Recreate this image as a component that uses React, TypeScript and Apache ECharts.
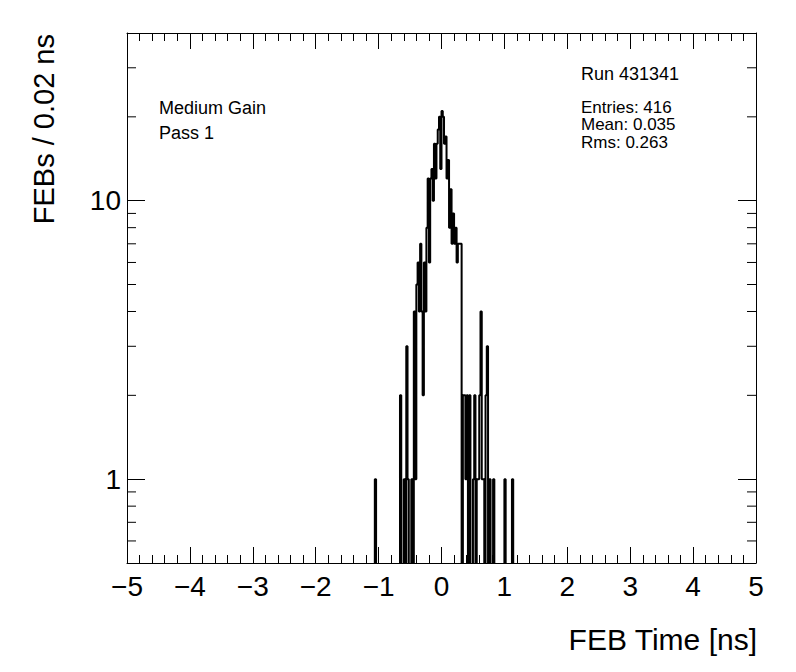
import React, { useEffect, useRef } from "react";
import * as echarts from "echarts";

// Histogram: FEB time, 0.02 ns bins, first bin low edge -1.10 ns
const binLow = -1.1;
const binWidth = 0.02;
const counts = [
  0, 0, 1, 0, 0, 0, 0, 0, 0, 0, // -1.10 .. -0.92
  0, 0, 0, 0, 0, 0, 0, 0, 0, 0, // -0.90 .. -0.72
  0, 0, 2, 0, 0, 1, 0, 3, 1, 0, // -0.70 .. -0.52
  0, 1, 0, 4, 1, 5, 6, 4, 7, 4, // -0.50 .. -0.32
  2, 6, 4, 8, 12, 6, 12, 13, 10, 16, // -0.30 .. -0.12
  12, 16, 18, 20, 13, 21, 20, 16, 17, 12, // -0.10 .. 0.08
  14, 8, 11, 7, 9, 7, 8, 6, 7, 7, // 0.10 .. 0.28
  7, 0, 2, 2, 1, 2, 0, 2, 0, 0, // 0.30 .. 0.48
  1, 2, 0, 1, 1, 2, 4, 1, 1, 0, // 0.50 .. 0.68
  2, 3, 0, 1, 0, 0, 1, 0, 0, 0, // 0.70 .. 0.88
  0, 0, 0, 0, 0, 1, 0, 0, 0, 0, 0, 1, // 0.90 .. 1.12
];

const xMin = -5;
const xMax = 5;
const yMin = 0.5;
const yMax = 40;
const yMajorLabels = [1, 10];
const yMinorTicks = [0.6, 0.7, 0.8, 0.9, 2, 3, 4, 5, 6, 7, 8, 9, 20, 30];

const leftTexts = ["Medium Gain", "Pass 1"];
const runText = "Run 431341";
const statLines = ["Entries: 416", "Mean: 0.035", "Rms: 0.263"];
const xTitle = "FEB Time [ns]";
const yTitle = "FEBs / 0.02 ns";

const FONT = '"Liberation Sans", Arial, Helvetica, sans-serif';
const FLOOR = 0.05; // empty bins drop below the frame (clipped)

export default function App() {
  const ref = useRef<HTMLDivElement>(null);

  useEffect(() => {
    if (!ref.current) return;
    const chart = echarts.init(ref.current, undefined, { renderer: "svg" });

    const stepData: [number, number][] = [[xMin, FLOOR]];
    counts.forEach((c, i) => {
      const edge = +(binLow + i * binWidth).toFixed(4);
      stepData.push([edge, c > 0 ? c : FLOOR]);
    });
    stepData.push([+(binLow + counts.length * binWidth).toFixed(4), FLOOR]);
    stepData.push([xMax, FLOOR]);

    const xFmt = (v: number) => (v < 0 ? "\u2212" + Math.abs(v) : String(v));
    const yFmt = (v: number) =>
      yMajorLabels.some((m) => Math.abs(m - v) < 1e-9) ? String(v) : "";

    const axisLine = { show: true, onZero: false, lineStyle: { color: "#000", width: 1 } };

    const xAxisBase = {
      type: "value" as const,
      min: xMin,
      max: xMax,
      interval: 1,
      axisLine,
      axisTick: { show: true, inside: true, length: 16, lineStyle: { color: "#000", width: 1 } },
      minorTick: { show: true, splitNumber: 5, length: 8, lineStyle: { color: "#000", width: 1 } },
      splitLine: { show: false },
      minorSplitLine: { show: false },
    };
    const yAxisBase = {
      type: "log" as const,
      logBase: 10,
      min: yMin,
      max: yMax,
      axisLine,
      axisTick: { show: true, inside: true, length: 18, lineStyle: { color: "#000", width: 1 } },
      splitLine: { show: false },
    };

    const textStyle = (size: number, align: string) => ({
      font: `${size}px ${FONT}`,
      fill: "#000",
      align,
      verticalAlign: "middle",
    });

    const option: any = {
      animation: false,
      backgroundColor: "#fff",
      grid: { left: 127, right: 40, top: 33, bottom: 109, containLabel: false },
      xAxis: [
        {
          ...xAxisBase,
          position: "bottom",
          axisLabel: {
            formatter: xFmt,
            fontSize: 28,
            fontFamily: FONT,
            color: "#000",
            margin: 9,
          },
        },
        { ...xAxisBase, position: "top", axisLabel: { show: false } },
      ],
      yAxis: [
        {
          ...yAxisBase,
          position: "left",
          axisLabel: {
            formatter: yFmt,
            fontSize: 28,
            fontFamily: FONT,
            color: "#000",
            margin: 6,
          },
        },
        { ...yAxisBase, position: "right", axisLabel: { show: false } },
      ],
      series: [
        {
          type: "line",
          step: "end",
          data: stepData,
          showSymbol: false,
          symbol: "none",
          clip: true,
          lineStyle: { color: "#000", width: 2 },
          xAxisIndex: 0,
          yAxisIndex: 0,
          silent: true,
        },
        {
          type: "custom",
          xAxisIndex: 0,
          yAxisIndex: 0,
          silent: true,
          data: yMinorTicks.map((v) => [xMin, v]),
          renderItem: (_params: any, api: any) => {
            const v = api.value(1);
            const l = api.coord([xMin, v]);
            const r = api.coord([xMax, v]);
            const st = { stroke: "#000", lineWidth: 1 };
            return {
              type: "group",
              children: [
                { type: "line", shape: { x1: l[0], y1: l[1], x2: l[0] + 9, y2: l[1] }, style: st },
                { type: "line", shape: { x1: r[0] - 9, y1: r[1], x2: r[0], y2: r[1] }, style: st },
              ],
            };
          },
        },
      ],
      graphic: [
        { type: "text", x: 159, y: 108, style: { text: leftTexts[0], ...textStyle(18, "left") } },
        { type: "text", x: 159, y: 133, style: { text: leftTexts[1], ...textStyle(18, "left") } },
        { type: "text", x: 581, y: 74, style: { text: runText, ...textStyle(18, "left") } },
        ...statLines.map((t, i) => ({
          type: "text",
          x: 581,
          y: 107 + i * 17.5,
          style: { text: t, ...textStyle(17, "left") },
        })),
        { type: "text", x: 757, y: 639, style: { text: xTitle, ...textStyle(30, "right") } },
        {
          type: "text",
          x: 44,
          y: 34,
          rotation: Math.PI / 2,
          style: { text: yTitle, ...textStyle(29, "right") },
        },
      ],
    };

    chart.setOption(option);
    return () => chart.dispose();
  }, []);

  return (
    <div
      ref={ref}
      style={{ position: "fixed", left: 0, top: 0, width: 796, height: 672, background: "#fff" }}
    />
  );
}
